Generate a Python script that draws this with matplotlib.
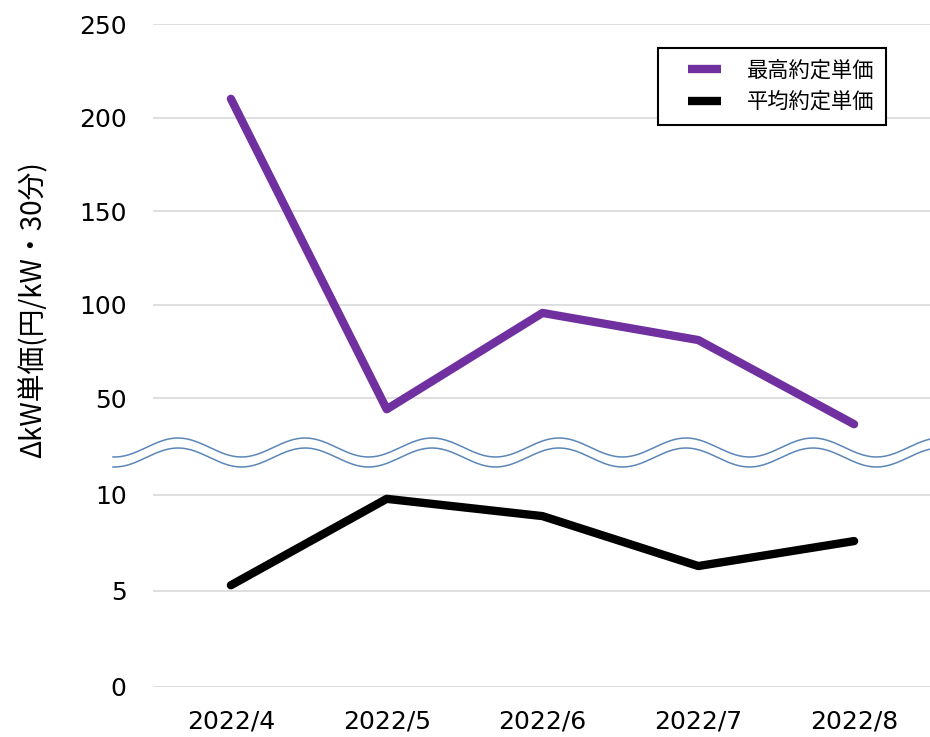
import numpy as np
import matplotlib
matplotlib.use("Agg")
import matplotlib.pyplot as plt
from matplotlib.transforms import Affine2D
from matplotlib.legend_handler import HandlerLine2D

months = ["2022/4", "2022/5", "2022/6", "2022/7", "2022/8"]
max_price = [210, 44, 95.5, 81, 36]
avg_price = [5.3, 9.8, 8.9, 6.3, 7.6]
y_ticks = [0, 5, 10, 50, 100, 150, 200, 250]
series_names = ["最高約定単価", "平均約定単価"]
ylabel = "ΔkW単価(円/kW・30分)"

plt.rcParams['font.family'] = ['DejaVu Sans', 'Noto Sans CJK JP']

# broken-axis scale: 0-10 linear (1 unit per 5), 50-250 linear (0.974 unit per 50)
TOP0, TOPK = 3.01, 0.974 / 50.0
MID_HI = TOP0 + (30 - 50) * TOPK


def fwd(v):
    v = np.asarray(v, dtype=float)
    return np.where(v <= 10, v / 5.0,
                    np.where(v < 30, 2 + (v - 10) * (MID_HI - 2) / 20.0,
                             TOP0 + (v - 50) * TOPK))


def inv(p):
    p = np.asarray(p, dtype=float)
    return np.where(p <= 2, p * 5.0,
                    np.where(p < MID_HI, 10 + (p - 2) * 20.0 / (MID_HI - 2),
                             50 + (p - TOP0) / TOPK))


W, H = 930, 737
fig = plt.figure(figsize=(W / 100, H / 100), dpi=100)
ax = fig.add_axes([153 / W, 1 - 687 / H, 779 / W, (687 - 24) / H])
ax.set_yscale('function', functions=(fwd, inv))
ax.set_ylim(0, 250)
ax.set_xlim(-0.5, len(months) - 0.5)

x = np.arange(len(months))
ax.plot(x, max_price, color='#7030a0', lw=6, solid_capstyle='round',
        label=series_names[0], zorder=3)
ax.plot(x, avg_price, color='black', lw=6, solid_capstyle='round',
        label=series_names[1], zorder=3)

ax.set_yticks(y_ticks)
ax.set_yticklabels([str(t) for t in y_ticks])
ax.set_xticks(x)
ax.set_xticklabels(months)
ax.yaxis.set_minor_locator(matplotlib.ticker.NullLocator())
ax.tick_params(axis='y', length=0, pad=19, labelsize=18)
ax.tick_params(axis='x', length=0, pad=16, labelsize=18)
ax.grid(axis='y', color='#d9d9d9', lw=1.2)
ax.set_axisbelow(True)
for s in ax.spines.values():
    s.set_visible(False)

# wavy break marks (figure pixel coords)
pix = Affine2D().scale(1 / W, -1 / H).translate(0, 1) + fig.transFigure
xs = np.linspace(113, 932, 400)
for c in (447.5, 457.5):
    ys = c - 9.5 * np.cos(2 * np.pi * (xs - 178) / 127)
    fig.add_artist(matplotlib.lines.Line2D(xs, ys, transform=pix,
                                           color='#5b86b8', lw=1.1))

fig.text(33 / W, 1 - 310 / H, ylabel, rotation=90, ha='center', va='center',
         fontsize=20, family=['Noto Sans CJK JP', 'DejaVu Sans'])

leg = ax.legend(loc='upper left', bbox_to_anchor=(658 / W, 1 - 48 / H),
                bbox_transform=fig.transFigure, frameon=True, fancybox=False,
                edgecolor='black', framealpha=1, handlelength=3.28,
                numpoints=2,
                handler_map={matplotlib.lines.Line2D: HandlerLine2D(marker_pad=0.88)},
                handletextpad=0.36, borderpad=0.55, labelspacing=0.45,
                prop={'family': ['Noto Sans CJK JP'], 'size': 15.3},
                borderaxespad=0)
leg.get_frame().set_linewidth(1.5)
for ln in leg.get_lines():
    ln.set_solid_capstyle('butt')

fig.savefig("out.png", dpi=100)
